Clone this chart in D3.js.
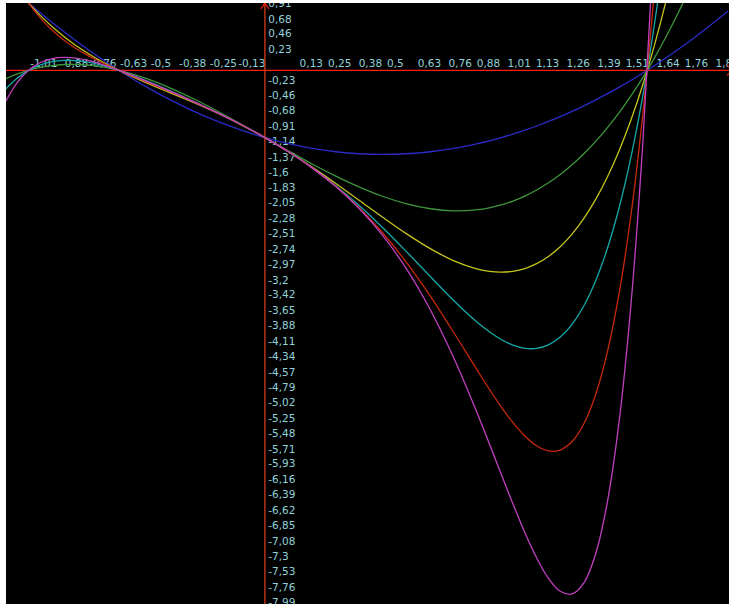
<!DOCTYPE html>
<html><head><meta charset="utf-8">
<script src="https://cdn.jsdelivr.net/npm/d3@7/dist/d3.min.js"></script>
<style>body{margin:0;background:#fff;overflow:hidden}</style>
</head><body>
<svg id="c" width="732" height="607"></svg>
<script>
// ---- data ----
const xs = [-1.1,-1.05,-1.0,-0.95,-0.9,-0.85,-0.8,-0.75,-0.7,-0.65,-0.6,-0.5,-0.4,-0.3,-0.2,-0.1,0,0.1,0.2,0.3,0.4,0.5,0.6,0.7,0.8,0.9,0.95,1.0,1.05,1.1,1.15,1.2,1.25,1.3,1.35,1.4,1.45,1.5,1.55,1.6,1.65,1.7,1.75,1.8,1.9,1.96];
const blueY = [1.31,1.1525,1,0.8525,0.71,0.5725,0.44,0.3125,0.19,0.0725,-0.04,-0.25,-0.44,-0.61,-0.76,-0.89,-1,-1.09,-1.16,-1.21,-1.24,-1.25,-1.24,-1.21,-1.16,-1.09,-1.0475,-1,-0.9475,-0.89,-0.8275,-0.76,-0.6875,-0.61,-0.5275,-0.44,-0.3475,-0.25,-0.1475,-0.04,0.0725,0.19,0.3125,0.44,0.71,0.8816];
const greenY = [-0.131,-0.0576,0,0.0426,0.071,0.0859,0.088,0.0781,0.057,0.0254,-0.016,-0.125,-0.264,-0.427,-0.608,-0.801,-1,-1.199,-1.392,-1.573,-1.736,-1.875,-1.984,-2.057,-2.088,-2.071,-2.0426,-2,-1.9424,-1.869,-1.7791,-1.672,-1.5469,-1.403,-1.2396,-1.056,-0.8514,-0.625,-0.3761,-0.104,0.1921,0.513,0.8594,1.232,2.059,null];
const yellowY = [1.4541,1.213,1,0.812,0.6461,0.4995,0.3696,0.2539,0.1501,0.056,-0.0304,-0.1875,-0.3344,-0.4819,-0.6384,-0.8099,-1,-1.2099,-1.4384,-1.6819,-1.9344,-2.1875,-2.4304,-2.6499,-2.8304,-2.9539,-2.988,-3,-2.987,-2.9459,-2.8735,-2.7664,-2.6211,-2.4339,-2.201,-1.9184,-1.582,-1.1875,-0.7305,-0.2064,0.3895,1.0621,1.8164,null,null,null];
const cyanY = [-0.2895,-0.1212,0,0.0811,0.1285,0.1479,0.1443,0.1221,0.0849,0.0361,-0.0218,-0.1563,-0.3062,-0.4654,-0.6323,-0.809,-1,-1.211,-1.4477,-1.7146,-2.0138,-2.3438,-2.6982,-3.0649,-3.4243,-3.7485,-3.8861,-4,-4.0839,-4.1305,-4.132,-4.0797,-3.9639,-3.7741,-3.4988,-3.1258,-2.6414,-2.0313,-1.2798,-0.3702,0.7152,1.9956,3.4912,null,null,null];
const redY = [1.6285,1.2797,1,0.7755,0.5943,0.4468,0.3245,0.2209,0.1305,0.049,-0.0269,-0.1719,-0.3175,-0.4704,-0.6335,-0.8091,-1,-1.2111,-1.4495,-1.7244,-2.0455,-2.4219,-2.8589,-3.3555,-3.8995,-4.4637,-4.7393,-5,-5.2355,-5.4335,-5.5793,-5.6556,-5.6423,-5.5163,-5.2509,-4.8161,-4.1775,-3.2969,-2.1311,-0.6324,1.2526,3.5825,null,null,null,null];
const magentaY = [-0.4813,-0.1912,0,0.1158,0.1751,0.1927,0.1804,0.1468,0.0986,0.0406,-0.0238,-0.1641,-0.313,-0.4689,-0.6333,-0.8091,-1,-1.2111,-1.4499,-1.7273,-2.0582,-2.4609,-2.9554,-3.5588,-4.2796,-5.1073,-5.5498,-6,-6.4448,-6.8669,-7.2437,-7.5467,-7.7404,-7.7812,-7.6163,-7.1825,-6.4049,-5.1953,-3.4508,-1.0518,2.1392,6.2802,null,null,null,null];
const seriesNames = ["blue","green","yellow","cyan","red","magenta"];
const seriesColors = ["#2b2bc8","#3e963c","#c4c41c","#16a8a8","#c8280c","#c040c0"];
const xTicks = [-1.01,-0.88,-0.76,-0.63,-0.5,-0.38,-0.25,-0.13,0.13,0.25,0.38,0.5,0.63,0.76,0.88,1.01,1.13,1.26,1.39,1.51,1.64,1.76,1.89];
const yTicks = [0.91,0.68,0.46,0.23,-0.23,-0.46,-0.68,-0.91,-1.14,-1.37,-1.6,-1.83,-2.05,-2.28,-2.51,-2.74,-2.97,-3.2,-3.42,-3.65,-3.88,-4.11,-4.34,-4.57,-4.79,-5.02,-5.25,-5.48,-5.71,-5.93,-6.16,-6.39,-6.62,-6.85,-7.08,-7.3,-7.53,-7.76,-7.99];

// ---- drawing ----
const allY = [blueY,greenY,yellowY,cyanY,redY,magentaY];
const plot = {left:6, top:3, right:729, bottom:604};
const x = d3.scaleLinear().domain([-1.1,1.96]).range([5,728]);
const y = d3.scaleLinear().domain([1,-7.93]).range([3,604]);
const svg = d3.select('#c');
svg.append('rect').attr('width',732).attr('height',607).attr('fill','#fff');
svg.append('rect').attr('x',plot.left).attr('y',plot.top)
  .attr('width',plot.right-plot.left).attr('height',plot.bottom-plot.top).attr('fill','#000');
svg.append('defs').append('clipPath').attr('id','clip').append('rect')
  .attr('x',plot.left).attr('y',plot.top)
  .attr('width',plot.right-plot.left).attr('height',plot.bottom-plot.top);
const g = svg.append('g').attr('clip-path','url(#clip)');

const fmt = v => (v<0?'-':'') + String(Math.abs(v)).replace('.',',');
const labelColor = '#92d2da';

// x axis labels
const ax = g.append('g').attr('transform',`translate(0,${y(0)})`)
  .call(d3.axisTop(x).tickValues(xTicks).tickFormat(fmt).tickSize(0).tickPadding(3.5));
ax.select('.domain').remove();
ax.selectAll('text').attr('text-anchor','start').attr('dx',3.5)
  .attr('fill',labelColor).style('font-family','DejaVu Sans').style('font-size','10.5px');

// y axis labels
const ay = g.append('g').attr('transform',`translate(${x(0)},0)`)
  .call(d3.axisRight(y).tickValues(yTicks).tickFormat(fmt).tickSize(0).tickPadding(3.3));
ay.select('.domain').remove();
ay.selectAll('text').attr('dy',-2.5)
  .attr('fill',labelColor).style('font-family','DejaVu Sans').style('font-size','10.5px');

// axis lines
g.append('line').attr('x1',plot.left).attr('x2',plot.right).attr('y1',y(0)).attr('y2',y(0))
  .attr('stroke','#ff1a10').attr('stroke-width',1.2);
g.append('line').attr('x1',x(0)).attr('x2',x(0)).attr('y1',plot.top).attr('y2',plot.bottom)
  .attr('stroke','#e8401c').attr('stroke-width',1.2);
g.append('path').attr('d',`M${x(0)-4},${plot.top+6}L${x(0)},${plot.top}L${x(0)+4},${plot.top+6}`)
  .attr('fill','none').attr('stroke','#ff2010').attr('stroke-width',1.2);
g.append('path').attr('d',`M${plot.right-2},${y(0)-5}L${plot.right+4},${y(0)}L${plot.right-2},${y(0)+5}`)
  .attr('fill','none').attr('stroke','#ff2010').attr('stroke-width',1.2);

// curves
const line = d3.line().defined(d=>d[1]!==null).x(d=>x(d[0])).y(d=>y(d[1]))
  .curve(d3.curveCatmullRom.alpha(0.5));
allY.forEach((ys,i)=>{
  const pts = xs.map((xv,j)=>[xv, ys[j]]);
  g.append('path').datum(pts).attr('d',line).attr('fill','none')
   .attr('stroke',seriesColors[i]).attr('stroke-width',1.3).attr('class',seriesNames[i]);
});
</script>
</body></html>
